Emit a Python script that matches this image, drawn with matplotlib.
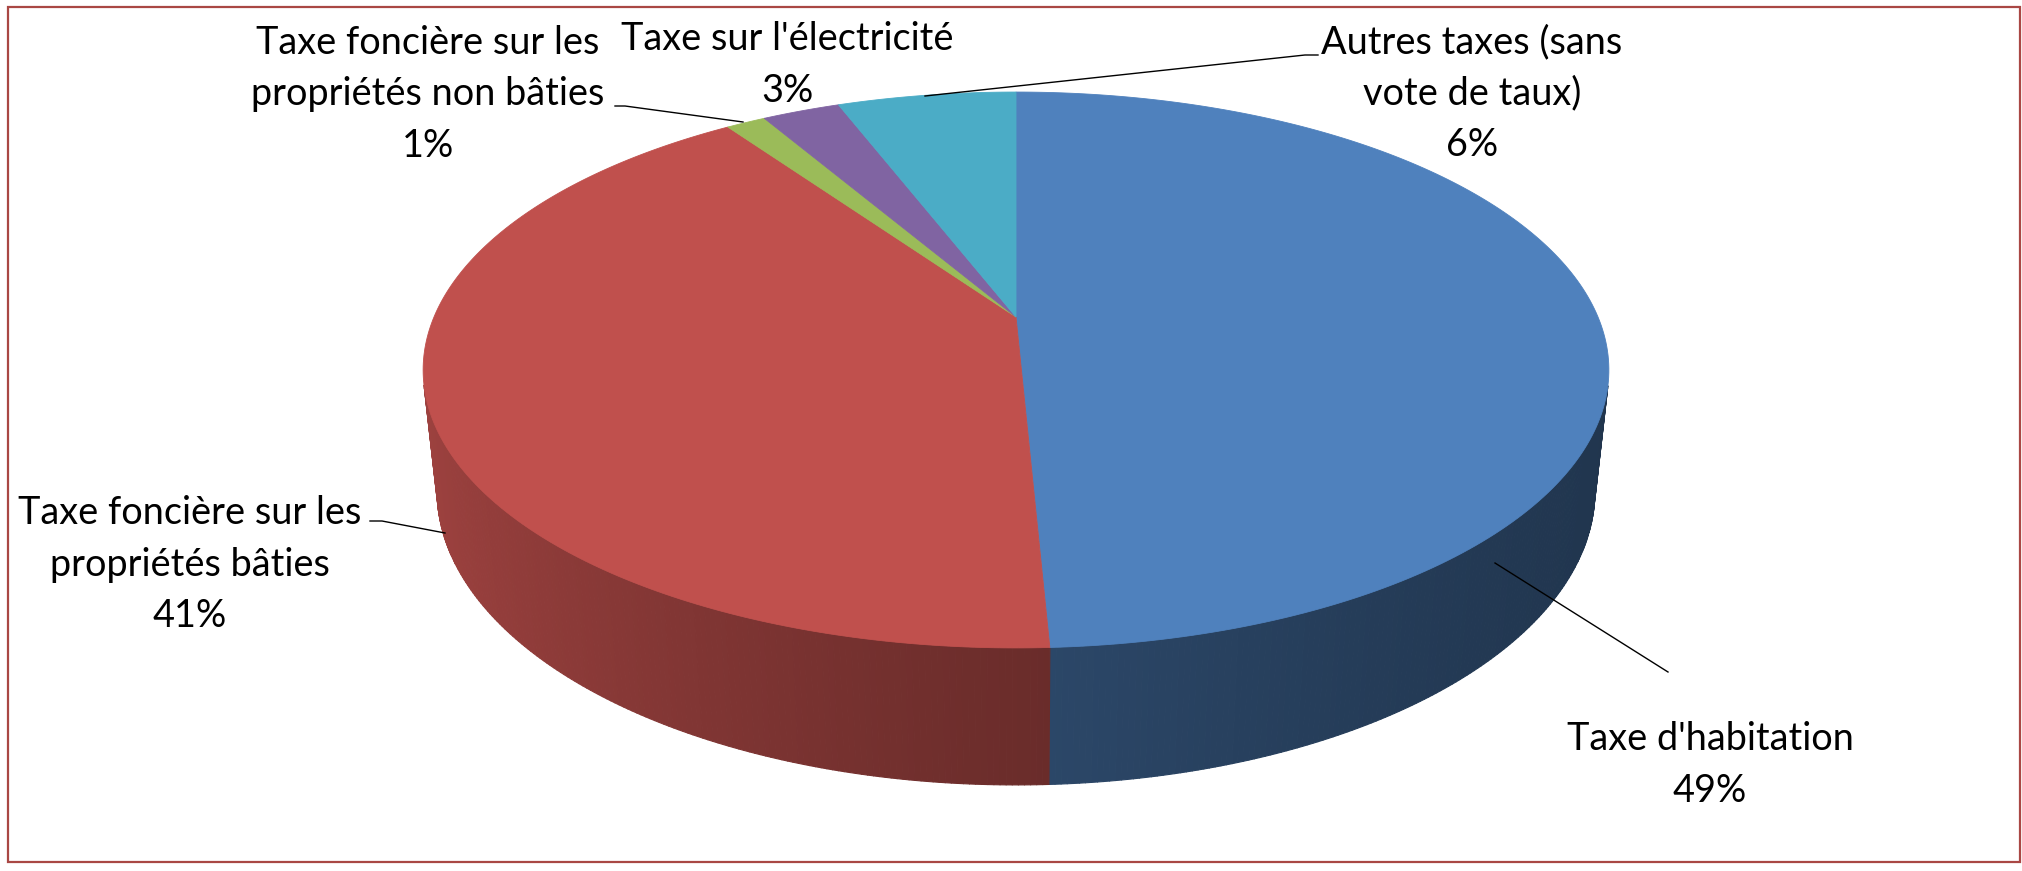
import numpy as np
import matplotlib.pyplot as plt
from matplotlib.collections import PolyCollection
from matplotlib.patches import Polygon, Rectangle
from matplotlib.colors import to_rgb

# data (percent of the total)
categories = ["Taxe d'habitation",
              "Taxe foncière sur les\npropriétés bâties",
              "Taxe foncière sur les\npropriétés non bâties",
              "Taxe sur l'électricité",
              "Autres taxes (sans\nvote de taux)"]
shares = [49.25, 41.05, 1.30, 2.55, 5.85]
colors = ["#4F81BD", "#C0504D", "#9BBB59", "#8064A2", "#4BACC6"]

# label layout (pixel coords, y down): centre x, first baseline
label_pos = [(1710, 750), (190, 524), (428, 54), (787, 50), (1472, 53)]
leaders = [[(1495, 563), (1668, 672)],
           [(445, 533), (382, 521), (370, 521)],
           [(743, 122), (625, 106), (615, 106)],
           None,
           [(925, 96), (1305, 55), (1318, 55)]]
LINE_STEP = 51.5
FONT = ['Lato', 'DejaVu Sans']
FSIZE = 27.3

# 3d pie camera
ELEV = np.radians(27.4)
DIST = 4.658
FOCAL = 2711
CX, CY = 1016, 317
THICK = 0.2357


def project(phi, r, z):
    x = r * np.sin(phi)
    y = r * np.cos(phi)
    depth = DIST + y * np.cos(ELEV) - z * np.sin(ELEV)
    sx = CX + FOCAL * x / depth
    sy = CY - FOCAL * (y * np.sin(ELEV) + z * np.cos(ELEV)) / depth
    return sx, sy, depth


def shade(c, u):
    f = 0.56 - 0.21 * u + 0.06 * u * u
    return tuple(np.clip(np.array(to_rgb(c)) * f, 0, 1))


fig = plt.figure(figsize=(20.22, 8.71), dpi=100)
ax = fig.add_axes([0, 0, 1, 1])
ax.set_xlim(0, 2022)
ax.set_ylim(871, 0)
ax.axis('off')

bounds = np.radians(np.concatenate([[0], np.cumsum(shares)]) * 3.6)

# side wall, front facing strips only, far to near
quads, qcols, qdep = [], [], []
for i, c in enumerate(colors):
    n = max(int(np.degrees(bounds[i + 1] - bounds[i]) / 0.5), 2)
    ph = np.linspace(bounds[i], bounds[i + 1], n + 1)
    for a, b in zip(ph[:-1], ph[1:]):
        m = (a + b) / 2
        if np.cos(m) > -1 / (DIST * np.cos(ELEV)):
            continue
        xa, ya, _ = project(a, 1, 0)
        xb, yb, d = project(b, 1, 0)
        xc, yc, _ = project(b, 1, -THICK)
        xd, yd, _ = project(a, 1, -THICK)
        quads.append([(xa, ya), (xb, yb), (xc, yc), (xd, yd)])
        qcols.append(shade(c, np.sin(m)))
        qdep.append(d)
order = np.argsort(qdep)[::-1]
ax.add_collection(PolyCollection([quads[k] for k in order],
                                 facecolors=[qcols[k] for k in order],
                                 edgecolors=[qcols[k] for k in order],
                                 linewidths=0.8))

# top face
for i, c in enumerate(colors):
    ph = np.linspace(bounds[i], bounds[i + 1], 200)
    sx, sy, _ = project(ph, 1, 0)
    pts = [(CX, CY)] + list(zip(sx, sy))
    ax.add_patch(Polygon(pts, closed=True, facecolor=c, edgecolor=c, lw=0.6))

# labels
for name, v, (lx, ly), lead in zip(categories, shares, label_pos, leaders):
    lines = name.split('\n') + [f"{v:.0f}%"]
    for j, t in enumerate(lines):
        ax.text(lx, ly + j * LINE_STEP, t, ha='center', va='baseline',
                fontsize=FSIZE, family=FONT, color='black')
    if lead:
        xs, ys = zip(*lead)
        ax.plot(xs, ys, color='black', lw=1.0)

ax.add_patch(Rectangle((8, 7), 2012, 855, fill=False, edgecolor='#A94744', lw=1.6))

fig.savefig('out.png', dpi=100)
